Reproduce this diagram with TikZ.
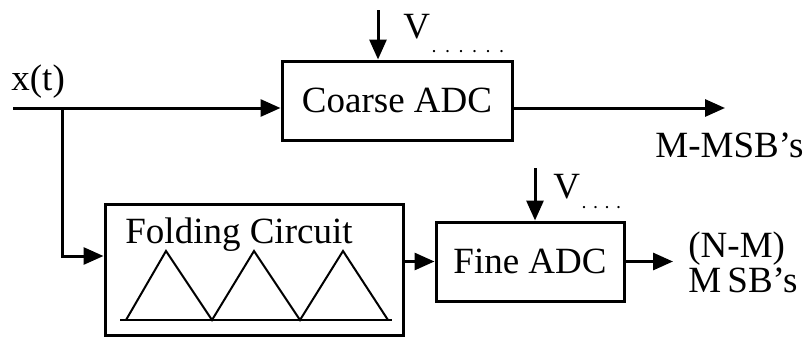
\documentclass[tikz,border=0pt]{standalone}
\usepackage{fontspec}
\setmainfont{Liberation Serif}
\usetikzlibrary{arrows.meta}
\begin{document}
\begin{tikzpicture}[x=0.5pt,y=-0.5pt,
  every node/.style={inner sep=0pt,font=\fontsize{18.5}{21}\selectfont},
  blk/.style={draw,line width=1.5pt,inner sep=0pt},
  wire/.style={line width=1.5pt,-{Triangle[length=10pt,width=8.5pt]}},
  subdots/.style={font=\fontsize{7}{7}\selectfont\bfseries}]
\useasboundingbox (0,0) rectangle (806,337);
% blocks
\node[blk,minimum width=115pt,minimum height=39.5pt] (coarse) at (397,100.5) {Coarse ADC};
\node[blk,minimum width=149pt,minimum height=65.5pt] (fold) at (254,269.5) {};
\node[blk,minimum width=94pt,minimum height=39.5pt] (fine) at (530,261.5) {Fine ADC};
\node[anchor=base west] (foldtxt) at (125,243) {Folding Circuit};
% triangles
\draw[line width=1pt] (120,320) -- (392,320);
\draw[line width=1pt,line join=miter] (126,320) -- (166,251) -- (212,320) -- (254,251) -- (300,320) -- (343,251) -- (388,320);
% input
\node[anchor=base west] (xt) at (11,90) {x(t)};
\coordinate (in0) at (13,108);
\coordinate (br) at (62,108);
\coordinate (bend) at (62,256);
\draw[wire] (in0) -- (coarse.west |- in0);
\draw[wire] (br) -- (bend) -- (fold.west |- bend);
\draw[wire] (fold.east |- fine.west) -- (fine.west);
% outputs
\coordinate (cout) at (725,108);
\draw[wire] (coarse.east |- cout) -- (cout);
\node[anchor=base west] (msb1) at (655,157) {M-MSB’s};
\coordinate (fout) at (673,261.5);
\draw[wire] (fine.east) -- (fout);
\node[anchor=base west] (msb2a) at (688,257) {(N-M)};
\node[anchor=base west] (msb2b) at (688,292) {M\,SB’s};
% reference voltages
\coordinate (v1) at (378,10);
\draw[wire] (v1) -- (v1 |- coarse.north);
\node[anchor=base west] (vc) at (403,38) {V};
\node[subdots,anchor=base west] (vcs) at (432,52) {.\hspace{5pt}.\hspace{5pt}.\hspace{5pt}.\hspace{5pt}.\hspace{5pt}.};
\coordinate (v2) at (535,168);
\draw[wire] (v2) -- (v2 |- fine.north);
\node[anchor=base west] (vf) at (553,198) {V};
\node[subdots,anchor=base west] (vfs) at (582,208) {.\hspace{4pt}.\hspace{4pt}.\hspace{4pt}.};
\end{tikzpicture}
\end{document}
